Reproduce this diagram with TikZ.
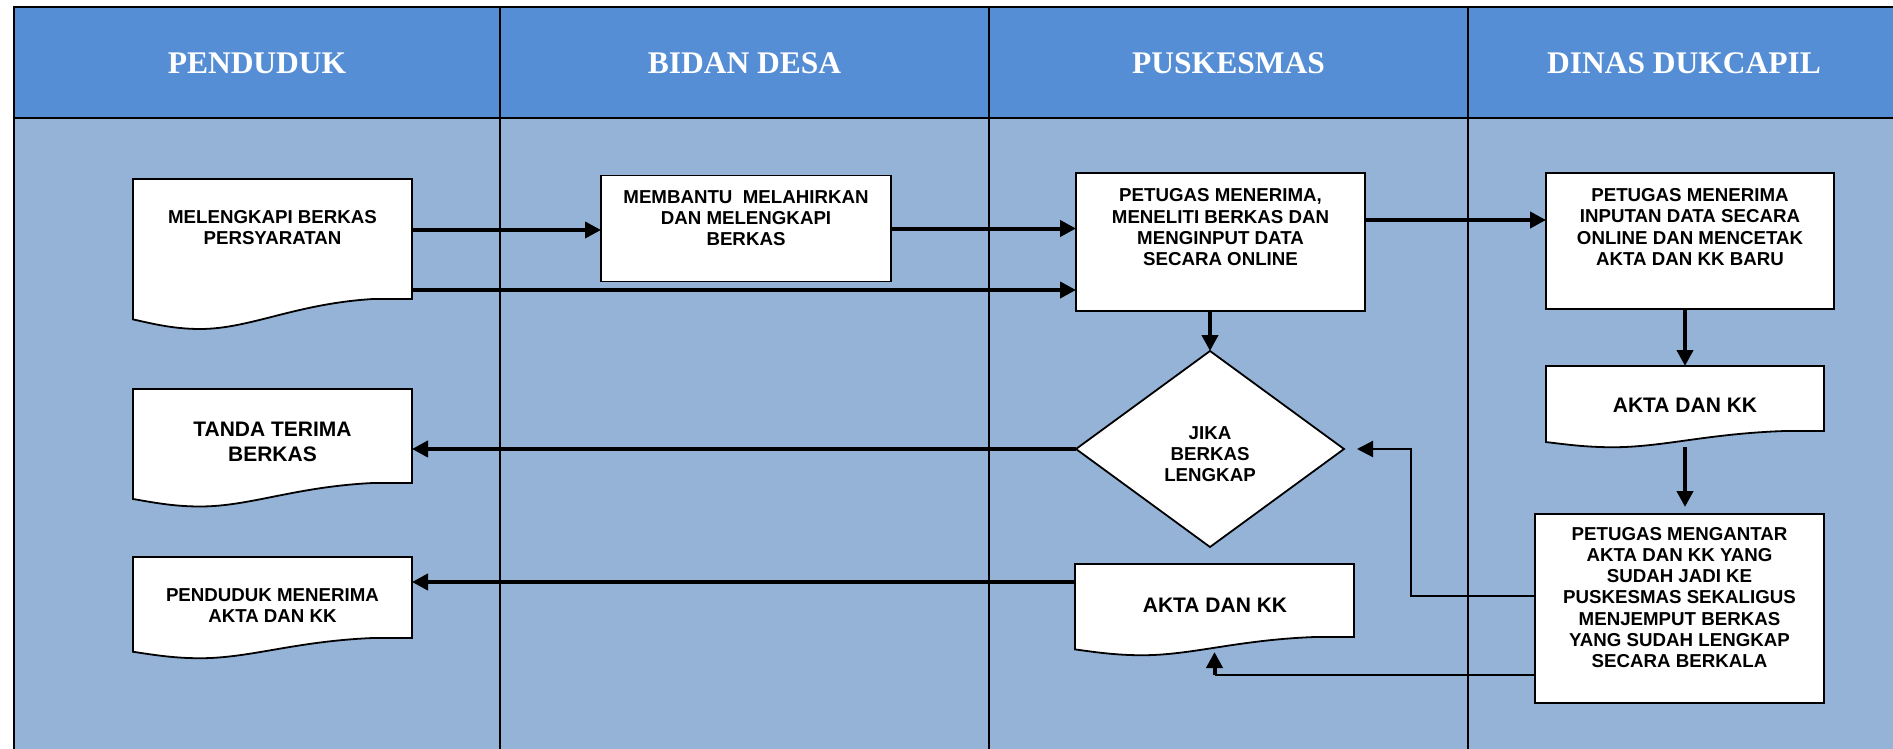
\documentclass[tikz,border=0pt]{standalone}
\usepackage{fontspec}
\setmainfont{Liberation Serif}
\setsansfont{Liberation Sans}
\usetikzlibrary{arrows.meta,shapes.geometric}
\definecolor{hdr}{HTML}{558ED5}
\definecolor{lanebg}{HTML}{95B3D7}
\tikzset{
 frame/.style={line width=2pt,draw=black},
 box/.style={draw=black,fill=white,line width=1.8pt,inner sep=0pt,outer sep=0pt},
 docline/.style={draw=black,fill=white,line width=1.8pt},
 hd/.style={text=white,font=\rmfamily\bfseries\fontsize{31.5}{36}\selectfont,inner sep=0pt},
 txt/.style={font=\sffamily\bfseries\fontsize{18.7}{21.3}\selectfont,align=center,inner sep=0pt},
 txtbig/.style={font=\sffamily\bfseries\fontsize{21}{25}\selectfont,align=center,inner sep=0pt},
 arr/.style={line width=4pt,-{Triangle[length=16pt,width=16pt]}},
 thinarr/.style={line width=2.2pt,-{Triangle[length=16pt,width=16pt]}},
 thinline/.style={line width=2.2pt},
}
\newcommand\docbox[5]{%
 \pgfmathsetmacro\dw{#4-#2}\pgfmathsetmacro\dh{#5-#3}%
 \path[docline] (#2,#3) -- (#4,#3) -- (#4,#5) -- ({#2+0.86*\dw},#5)
   .. controls ({#2+0.58*\dw},{#5+0.04*\dh}) and ({#2+0.42*\dw},{#5+0.25*\dh}) .. ({#2+0.24*\dw},{#5+0.25*\dh})
   .. controls ({#2+0.14*\dw},{#5+0.25*\dh}) and ({#2+0.06*\dw},{#5+0.2*\dh}) .. (#2,{#5+0.17*\dh}) -- cycle;
 \node[anchor=north west,minimum width=\dw pt,minimum height=\dh pt,inner sep=0pt,outer sep=0pt] (#1) at (#2,#3) {};
}
\begin{document}
\begin{tikzpicture}[x=1pt,y=-1pt]
\useasboundingbox (0,0) rectangle (1893,749);
\begin{scope}
\clip (0,0) rectangle (1893,749);
\fill[hdr] (14,7) rectangle (1910,118);
\fill[lanebg] (14,118) rectangle (1910,770);
\draw[frame] (14,7) rectangle (1910,770);
\draw[frame] (14,118) -- (1910,118);
\draw[frame] (500,7) -- (500,770);
\draw[frame] (989,7) -- (989,770);
\draw[frame] (1468,7) -- (1468,770);
\end{scope}
\node[hd] (h1) at (257,63.5) {PENDUDUK};
\node[hd] (h2) at (744.5,63.5) {BIDAN DESA};
\node[hd] (h3) at (1228.5,63.5) {PUSKESMAS};
\node[hd] (h4) at (1684,63.5) {DINAS DUKCAPIL};
% shapes
\docbox{d1}{133}{179}{412}{299}
\docbox{d6}{133}{389}{412}{483}
\docbox{d7}{133}{557}{412}{638}
\docbox{d8}{1075}{564}{1354}{637}
\docbox{d9}{1546}{366}{1824}{431}
\node[box,minimum width=290pt,minimum height=106pt] (r2) at (746,228.5) {};
\node[box,minimum width=289pt,minimum height=138pt] (r3) at (1220.5,242) {};
\node[box,minimum width=288pt,minimum height=136pt] (r4) at (1690,241) {};
\node[box,minimum width=289pt,minimum height=189pt] (r10) at (1679.5,608.5) {};
\node[box,diamond,minimum width=268pt,minimum height=196pt] (dia) at (1210,449) {};
% texts
\node[txt] (t1) at (272.5,227.5) {MELENGKAPI BERKAS\\PERSYARATAN};
\node[txt] (t2) at (746,218) {MEMBANTU\ \ MELAHIRKAN\\DAN MELENGKAPI\\BERKAS};
\node[txt] (t3) at (1220.5,227.5) {PETUGAS MENERIMA,\\MENELITI BERKAS DAN\\MENGINPUT DATA\\SECARA ONLINE};
\node[txt] (t4) at (1690,227) {PETUGAS MENERIMA\\INPUTAN DATA SECARA\\ONLINE DAN MENCETAK\\AKTA DAN KK BARU};
\node[txt] (tdia) at (1210,454) {JIKA\\BERKAS\\LENGKAP};
\node[txtbig] (t6) at (272.5,441.5) {TANDA TERIMA\\BERKAS};
\node[txt] (t7) at (272.5,605.5) {PENDUDUK MENERIMA\\AKTA DAN KK};
\node[txtbig] (t8) at (1215,605) {AKTA DAN KK};
\node[txtbig] (t9) at (1685,405) {AKTA DAN KK};
\node[txt] (t10) at (1679.5,597.5) {PETUGAS MENGANTAR\\AKTA DAN KK YANG\\SUDAH JADI KE\\PUSKESMAS SEKALIGUS\\MENJEMPUT BERKAS\\YANG SUDAH LENGKAP\\SECARA BERKALA};
% connectors
\coordinate (a1) at ([yshift=9pt]d1.east);
\coordinate (a2) at ([yshift=-51pt]d1.east);
\coordinate (a3) at ([yshift=22pt]r3.east);
\coordinate (a4) at ([yshift=18.5pt]d8.west);
\coordinate (k1) at ([yshift=12.5pt]r10.west);
\coordinate (k2) at ([yshift=-66.5pt]r10.west);
\coordinate (k3) at ([xshift=67pt]dia.east);
\coordinate (d9b) at ([yshift=-16pt]d9.south);
\coordinate (d8b) at ([yshift=-15pt]d8.south);
\draw[arr] (a1) -- (a1 -| r2.west);
\draw[arr] (a2) -- (a2 -| r3.west);
\draw[arr] (r2.east) -- (r2.east -| r3.west);
\draw[arr] (a3) -- (a3 -| r4.west);
\draw[arr] (dia.north |- r3.south) -- (dia.north);
\draw[arr] (dia.west) -- (dia.west -| d6.east);
\draw[arr] (a4) -- (a4 -| d7.east);
\draw[arr] (d9.north |- r4.south) -- (d9.north);
\draw[arr,shorten >=7pt] (d9b) -- (d9b |- r10.north);
\draw[thinarr,shorten >=13pt] (k1) -| (k3) -- (dia.east);
\draw[thinline] (k2) -- (k2 -| d8b);
\draw[arr] (k2 -| d8b) -- (d8b);
\end{tikzpicture}
\end{document}
